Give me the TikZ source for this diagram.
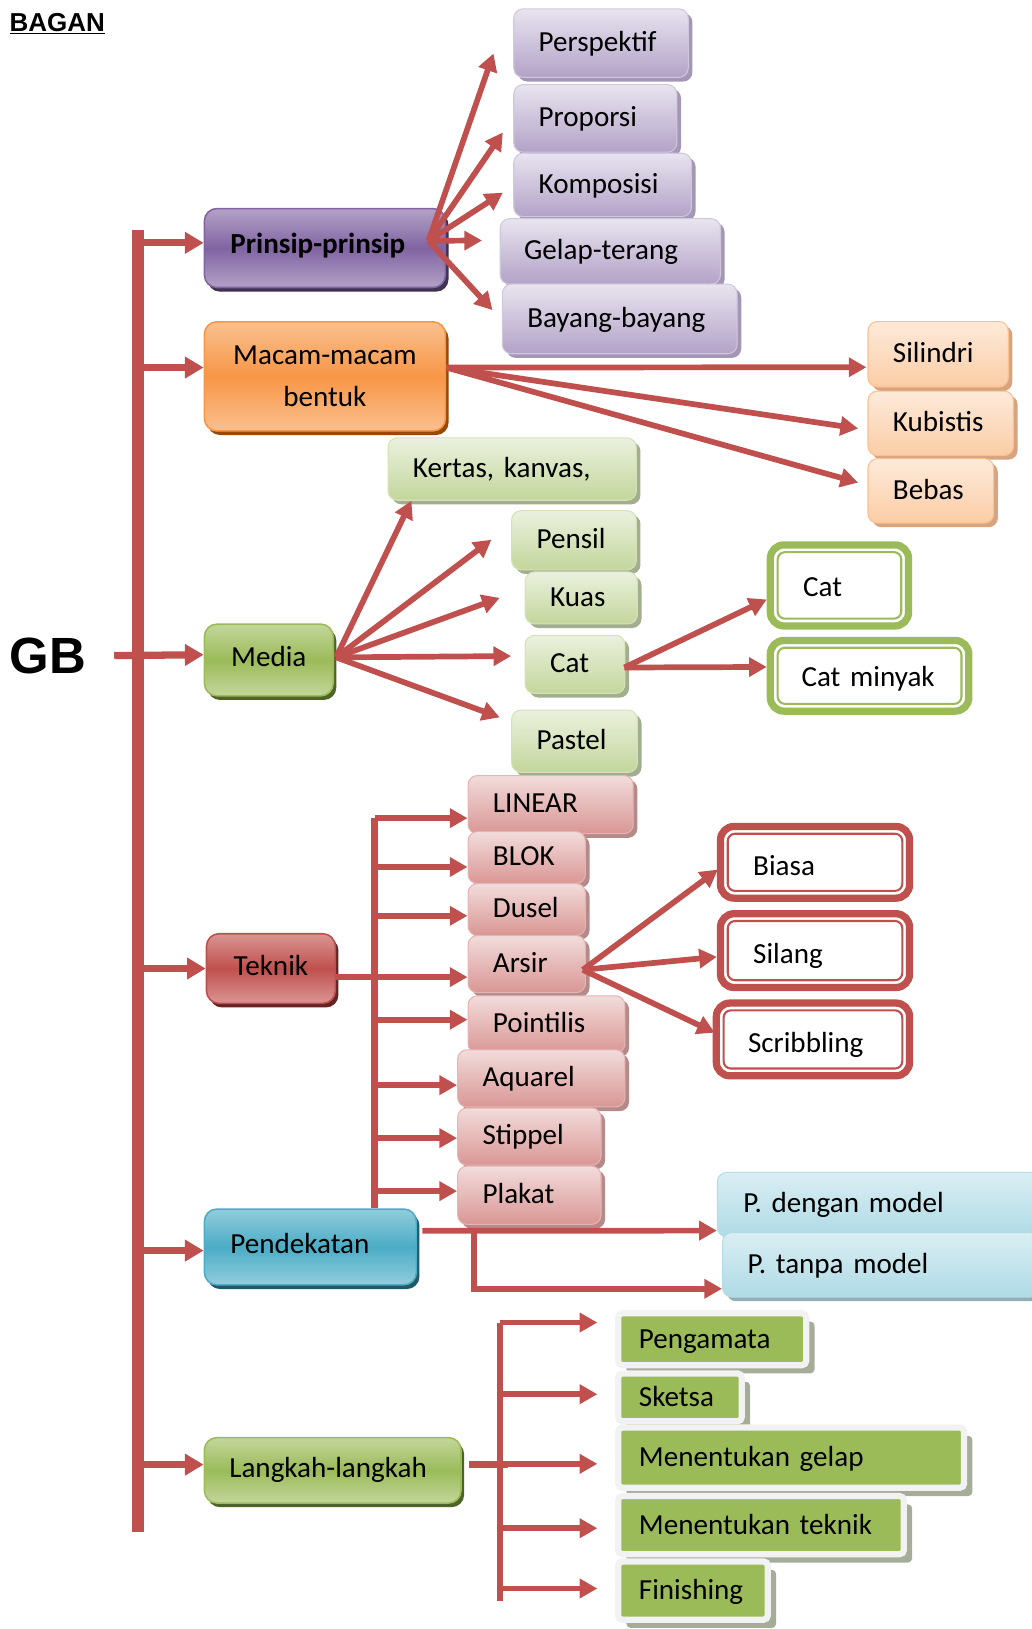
\documentclass[tikz,border=0pt]{standalone}
\usepackage{fontspec}
\setmainfont{Carlito}
\newfontfamily\headfont{Liberation Sans}
\usetikzlibrary{arrows.meta, positioning, shadows}

\definecolor{linkred}{HTML}{C0504D}
\definecolor{purpledark}{HTML}{8064A2}
\definecolor{purplelight}{HTML}{B3A2C7}
\definecolor{purplepale}{HTML}{E8E4EF}
\definecolor{purpleshade}{HTML}{3F3151}
\definecolor{purplekidshade}{HTML}{A497B5}
\definecolor{orangedark}{HTML}{F79646}
\definecolor{orangelight}{HTML}{FAC08F}
\definecolor{orangepale}{HTML}{FDEADA}
\definecolor{orangeshade}{HTML}{984807}
\definecolor{orangekidshade}{HTML}{D6A47F}
\definecolor{greendark}{HTML}{9BBB59}
\definecolor{greenlight}{HTML}{C3D69B}
\definecolor{greenpale}{HTML}{EBF1DE}
\definecolor{greenshade}{HTML}{4F6228}
\definecolor{greenkidshade}{HTML}{A3AE8E}
\definecolor{reddark}{HTML}{C0504D}
\definecolor{redlight}{HTML}{D99694}
\definecolor{redpale}{HTML}{F2DCDB}
\definecolor{redshade}{HTML}{632523}
\definecolor{redkidshade}{HTML}{B58A89}
\definecolor{bluedark}{HTML}{4BACC6}
\definecolor{bluelight}{HTML}{92CDDC}
\definecolor{bluepale}{HTML}{DAEEF3}
\definecolor{blueshade}{HTML}{215968}
\definecolor{bluekidshade}{HTML}{93ADB6}
\definecolor{stepgrey}{HTML}{F2F2F2}
\definecolor{stepshade}{HTML}{A5AD98}

\tikzset{
    spot/.style n args={4}{anchor=north west, at={(#1,#2)}, minimum width=#3, minimum height=#4},
    labeltext/.style={font=\fontsize{28}{34}\selectfont, text height=18pt, text depth=5pt, inner ysep=0pt, align=left},
    headbox/.style={labeltext, draw, rounded corners=12pt, line width=1.5pt},
    kidbox/.style={labeltext, draw, rounded corners=9pt, line width=1pt, text height=21pt},
    purplehead/.style={headbox, draw=purpledark, top color=purplelight, bottom color=purplelight, middle color=purpledark,
        general shadow={fill=purpleshade, shadow xshift=3pt, shadow yshift=-4pt}},
    orangehead/.style={headbox, draw=orangedark, top color=orangelight, bottom color=orangelight, middle color=orangedark,
        general shadow={fill=orangeshade, shadow xshift=3pt, shadow yshift=-4pt}},
    greenhead/.style={headbox, draw=greendark, top color=greenlight, bottom color=greenlight, middle color=greendark,
        general shadow={fill=greenshade, shadow xshift=3pt, shadow yshift=-4pt}},
    redhead/.style={headbox, draw=reddark, top color=redlight, bottom color=redlight, middle color=reddark,
        general shadow={fill=redshade, shadow xshift=3pt, shadow yshift=-4pt}},
    bluehead/.style={headbox, draw=bluedark, top color=bluelight, bottom color=bluelight, middle color=bluedark,
        general shadow={fill=blueshade, shadow xshift=3pt, shadow yshift=-4pt}},
    purplekid/.style={kidbox, draw=purplelight!60!white, top color=purplepale, bottom color=purplelight,
        general shadow={fill=purplekidshade, shadow xshift=4pt, shadow yshift=-4pt}},
    orangekid/.style={kidbox, draw=orangelight, top color=orangepale, bottom color=orangelight!70!orangepale,
        general shadow={fill=orangekidshade, shadow xshift=4pt, shadow yshift=-4pt}},
    greenkid/.style={kidbox, draw=greenlight!70!white, top color=greenpale, bottom color=greenlight,
        general shadow={fill=greenkidshade, shadow xshift=4pt, shadow yshift=-4pt}},
    redkid/.style={kidbox, draw=redlight!70!white, top color=redpale, bottom color=redlight,
        general shadow={fill=redkidshade, shadow xshift=4pt, shadow yshift=-4pt}},
    bluekid/.style={kidbox, draw=bluelight!70!white, top color=bluepale, bottom color=bluelight!60!bluepale,
        general shadow={fill=bluekidshade, shadow xshift=4pt, shadow yshift=-4pt}},
    ringgreen/.style={labeltext, draw=greendark, line width=7pt, fill=white, rounded corners=13pt, text height=26pt},
    ringred/.style={labeltext, draw=reddark, line width=7pt, fill=white, rounded corners=13pt, text height=30pt},
    innergreen/.style={draw=greendark, line width=2pt, rounded corners=7pt},
    innerred/.style={draw=reddark, line width=2pt, rounded corners=7pt},
    stepbox/.style={labeltext, draw=stepgrey, line width=6pt, fill=greendark, rounded corners=4pt, text height=23pt,
        general shadow={fill=stepshade, shadow xshift=8pt, shadow yshift=-8pt}},
    trunk/.style={draw=linkred, line width=12pt},
    stem/.style={draw=linkred, line width=6pt},
    arr/.style={draw=linkred, line width=7pt, -{Triangle[length=18pt, width=20pt]}},
    arrthin/.style={draw=linkred, line width=5.5pt, -{Triangle[length=17pt, width=18pt]}}
}

\begin{document}
\begin{tikzpicture}[x=1pt, y=-1pt]

\useasboundingbox (0,0) rectangle (993,1568);

\node[anchor=base west, inner sep=0pt, font=\headfont\bfseries\fontsize{25}{30}\selectfont] (title) at (9,30) {\underline{BAGAN}};
\node[inner sep=0pt, font=\headfont\bfseries\fontsize{49}{58}\selectfont] (gb) at (46,631) {GB};

% main topics
\node[purplehead, spot={196}{200}{232}{76}, inner xsep=25pt, text width=182pt, text height=16pt] (prinsip) {\bfseries Prinsip-prinsip};
\node[orangehead, spot={196}{309}{232}{105}, inner xsep=10pt, text width=212pt, align=center,
    text height=, text depth=, font=\fontsize{28}{40}\selectfont] (macam) {Macam-macam\\bentuk};
\node[greenhead, spot={196}{600}{124}{69}, inner xsep=8pt, text width=108pt, align=center] (media) {Media};
\node[redhead, spot={198}{898}{124}{67}, inner xsep=8pt, text width=108pt, align=center] (teknik) {Teknik};
\node[bluehead, spot={196}{1163}{204}{73}, inner xsep=25pt, text width=154pt] (pend) {Pendekatan};
\node[greenhead, spot={196}{1383}{247}{63}, inner xsep=24pt, text width=199pt] (lang) {Langkah-langkah};

% prinsip
\node[purplekid, spot={494}{8}{168}{66}, inner xsep=24pt, text width=120pt] (persp) {Perspektif};
\node[purplekid, spot={494}{81}{157}{65}, inner xsep=24pt, text width=109pt] (propo) {Proporsi};
\node[purplekid, spot={494}{147}{171}{61}, inner xsep=24pt, text width=123pt] (kompo) {Komposisi};
\node[purplekid, spot={481}{210}{212}{63}, inner xsep=23pt, text width=166pt] (gelap) {Gelap-terang};
\node[purplekid, spot={483}{273}{226}{67}, inner xsep=24pt, text width=178pt] (bayang) {Bayang-bayang};

% bentuk
\node[orangekid, spot={835}{309}{135}{63}, inner xsep=24pt, text width=87pt] (silin) {Silindri};
\node[orangekid, spot={835}{376}{140}{62}, inner xsep=24pt, text width=92pt] (kubis) {Kubistis};
\node[orangekid, spot={835}{441}{121}{62}, inner xsep=24pt, text width=73pt] (bebas) {Bebas};

% media
\node[greenkid, spot={373}{421}{239}{60}, inner xsep=24pt, text width=191pt] (kertas) {Kertas, kanvas,};
\node[greenkid, spot={492}{491}{120}{57}, inner xsep=24pt, text width=72pt] (pensil) {Pensil};
\node[greenkid, spot={505}{550}{108}{50}, inner xsep=24pt, text width=60pt] (kuas) {Kuas};
\node[greenkid, spot={505}{611}{96}{56}, inner xsep=24pt, text width=48pt] (catm) {Cat};
\node[greenkid, spot={492}{683}{121}{60}, inner xsep=24pt, text width=73pt] (pastel) {Pastel};
\node[ringgreen, spot={738}{521}{133}{78}, inner xsep=31.5pt, text width=70pt] (cata) {Cat};
\node[ringgreen, spot={738}{613}{191}{68}, inner xsep=30pt, text width=131pt] (catb) {Cat minyak};

% teknik
\node[redkid, spot={450}{746}{159}{56}, inner xsep=24pt, text width=111pt] (lin) {LINEAR};
\node[redkid, spot={450}{800}{113}{50}, inner xsep=24pt, text width=65pt] (blok) {BLOK};
\node[redkid, spot={450}{850}{113}{50}, inner xsep=24pt, text width=65pt] (dusel) {Dusel};
\node[redkid, spot={450}{900}{113}{55}, inner xsep=24pt, text width=65pt] (arsir) {Arsir};
\node[redkid, spot={450}{958}{151}{55}, inner xsep=24pt, text width=103pt] (point) {Pointilis};
\node[redkid, spot={440}{1010}{161}{55}, inner xsep=24pt, text width=113pt] (aqua) {Aquarel};
\node[redkid, spot={440}{1066}{138}{55}, inner xsep=24pt, text width=90pt] (stip) {Stippel};
\node[redkid, spot={440}{1122}{138}{56}, inner xsep=24pt, text width=90pt] (plak) {Plakat};
\node[ringred, spot={690}{792}{182}{69}, inner xsep=31.5pt, text width=119pt] (biasa) {Biasa};
\node[ringred, spot={690}{876}{182}{71}, inner xsep=31.5pt, text width=119pt] (silang) {Silang};
\node[ringred, spot={686}{962}{186}{70}, inner xsep=30.5pt, text width=125pt] (scrib) {Scribbling};

\foreach \n in {cata, catb}
    \draw[innergreen] ([shift={(10.5,10.5)}]\n.north west) rectangle ([shift={(-10.5,-10.5)}]\n.south east);
\foreach \n in {biasa, silang, scrib}
    \draw[innerred] ([shift={(10.5,10.5)}]\n.north west) rectangle ([shift={(-10.5,-10.5)}]\n.south east);

% pendekatan
\node[bluekid, spot={690}{1128}{310}{62}, inner xsep=25pt, text width=260pt] (pdm) {P. dengan model};
\node[bluekid, spot={695}{1186}{305}{62}, inner xsep=24pt, text width=257pt] (ptm) {P. tanpa model};

% langkah
\node[stepbox, spot={592}{1261}{181}{50}, inner xsep=20pt, text width=141pt] (peng) {Pengamata};
\node[stepbox, spot={592}{1319}{119}{46}, inner xsep=20pt, text width=79pt] (sket) {Sketsa};
\node[stepbox, spot={592}{1371}{333}{58}, inner xsep=20pt, text width=293pt] (mgel) {Menentukan gelap};
\node[stepbox, spot={592}{1437}{275}{56}, inner xsep=20pt, text width=235pt] (mtek) {Menentukan teknik};
\node[stepbox, spot={592}{1500}{144}{56}, inner xsep=20pt, text width=104pt] (fin) {Finishing};

% connectors
\coordinate (bar) at (133,221);
\coordinate (barend) at (133,1475);
\draw[trunk] (bar) -- (barend);
\foreach \n/\d in {prinsip/-5, macam/-8.5, teknik/0, pend/3.5, lang/-5.5}
    \draw[arr] ([shift={(0,\d)}]\n.west -| bar) -- ([shift={(0,\d)}]\n.west);
\draw[arr] ([xshift=27pt]gb.east) -- ([shift={(0,-5)}]media.west);

\coordinate (pfan) at ([shift={(-17,-7)}]prinsip.east);
\foreach \n/\dx/\dy in {persp/-19/10, propo/-10/13.5, kompo/-10/7.5, gelap/-17/-10.5, bayang/-9/-8.5}
    \draw[arrthin] (pfan) -- ([shift={(\dx,\dy)}]\n.west);

\coordinate (mfan) at ([shift={(0,-8.5)}]macam.east);
\foreach \n/\dx/\dy in {silin/-1/12.5, kubis/-9/5, bebas/-9/-8}
    \draw[arrthin] (mfan) -- ([shift={(\dx,\dy)}]\n.west);

\coordinate (dfan) at ([shift={(2,-2.5)}]media.east);
\draw[arrthin] (dfan) -- ([shift={(23,0)}]kertas.south west);
\foreach \n/\dx/\dy in {pensil/-19/-0.5, kuas/-24/0, catm/-13/-8, pastel/-11/-23}
    \draw[arrthin] (dfan) -- ([shift={(\dx,\dy)}]\n.west);

\coordinate (cfan) at ([shift={(-1,3)}]catm.east);
\draw[arrthin] (cfan) -- ([shift={(0,13.5)}]cata.west);
\draw[arrthin] (cfan) -- ([shift={(0,-8.5)}]catb.west);

\coordinate (tbar) at (360.5,787);
\draw[stem] (tbar) -- (tbar |- pend.north);
\draw[stem] ([shift={(0,8.5)}]teknik.east) -- ([shift={(0,8.5)}]teknik.east -| tbar);
\foreach \n/\d in {lin/13, blok/9, dusel/6, arsir/12.5, point/-4.5, aqua/6.5, stip/1.5, plak/-4}
    \draw[arrthin] ([shift={(0,\d)}]\n.west -| tbar) -- ([shift={(0,\d)}]\n.west);

\coordinate (afan) at ([shift={(-3,5.5)}]arsir.east);
\foreach \n/\dx/\dy in {biasa/1/7, silang/0/6, scrib/2/-6.5}
    \draw[arrthin] (afan) -- ([shift={(\dx,\dy)}]\n.west);

\draw[arrthin] ([shift={(5,-15.5)}]pend.east) -- ([shift={(0,25)}]pdm.west);
\draw[arrthin] ([shift={(55,-15.5)}]pend.east) |- ([shift={(0,23)}]ptm.west);

\coordinate (lbar) at (481.5,1273);
\coordinate (lbarend) at (481.5,1541);
\draw[stem] (lbar) -- (lbarend);
\draw[stem] ([shift={(7,-5.5)}]lang.east) -- ([shift={(7,-5.5)}]lang.east -| lbar);
\foreach \n/\d in {peng/-16, sket/-3, mgel/6, mtek/3, fin/-2}
    \draw[arrthin] ([shift={(0,\d)}]\n.west -| lbar) -- ([shift={(-17,\d)}]\n.west);

\end{tikzpicture}
\end{document}
